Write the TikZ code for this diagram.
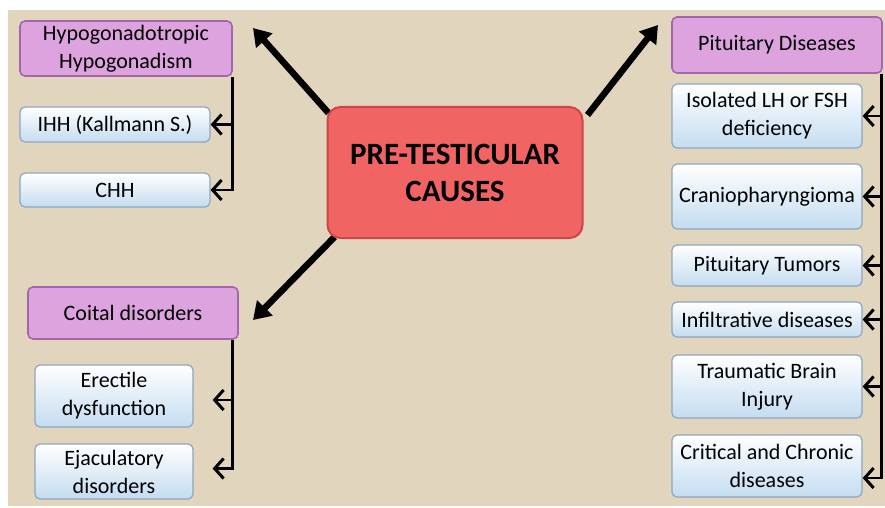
\documentclass[tikz,border=0pt]{standalone}
\usepackage{fontspec}
\setmainfont{Carlito}
\usepackage{tikz}
\usetikzlibrary{arrows.meta, positioning, calc, backgrounds}
\definecolor{beigebg}{HTML}{E1D5BE}
\definecolor{plumfill}{HTML}{DDA3DE}
\definecolor{plumline}{HTML}{A565AC}
\definecolor{skyfill}{HTML}{C4DCF0}
\definecolor{skyline}{HTML}{8EA6BE}
\definecolor{corefill}{HTML}{F06464}
\definecolor{coreline}{HTML}{CF4545}

\begin{document}
\begin{tikzpicture}[x=1pt, y=-1pt,
  font=\fontsize{22}{28}\selectfont,
  >={Straight Barb[length=9pt, width=20pt, line width=3pt]},
  headbox/.style={draw=plumline, line width=1.6pt, fill=plumfill, rounded corners=5pt,
    align=center, inner sep=0pt, text=black},
  leafbox/.style={draw=skyline, line width=1.2pt, top color=white, bottom color=skyfill,
    rounded corners=5pt, align=center, inner sep=0pt, text=black},
  corebox/.style={draw=coreline, line width=2pt, fill=corefill, rounded corners=13pt,
    align=center, inner sep=0pt, font=\fontsize{31}{37}\selectfont\bfseries},
  bigarrow/.style={line width=6.5pt, -{Triangle[length=17pt, width=21pt]}},
  linkarrow/.style={draw=black, line width=2.8pt, ->}]
\useasboundingbox (0,0) rectangle (885,508);
\begin{scope}[on background layer]
\fill[white] (0,0) rectangle (885,508);
\fill[beigebg] (8,10) rectangle (885,506);
\end{scope}

% Centre
\node[corebox, minimum width=255pt, minimum height=131pt] (ctr) at (455,172.5) {PRE-TESTICULAR\\CAUSES};

% Left, top
\node[headbox, minimum width=212pt, minimum height=55pt] (hh) at (126,48.5) {Hypogonadotropic\\Hypogonadism};
\node[leafbox, minimum width=190pt, minimum height=35pt] (ihh) at (115,124.5) {IHH (Kallmann S.)};
\node[leafbox, minimum width=190pt, minimum height=34pt] (chh) at (115,190) {CHH};
\draw[linkarrow] (hh.south east) |- (ihh.east);
\draw[linkarrow] (hh.south east) |- (chh.east);

% Left, bottom
\node[headbox, minimum width=210pt, minimum height=52pt] (coital) at (133,313) {Coital disorders};
\node[leafbox, minimum width=158pt, minimum height=62pt] (ed) at (114,396) {Erectile\\dysfunction};
\node[leafbox, minimum width=158pt, minimum height=55pt] (ejac) at (114,471.5) {Ejaculatory\\disorders};
\draw[linkarrow, shorten >=19pt] ([xshift=-6pt]coital.south east) |- ([yshift=-4pt]ed.east);
\draw[linkarrow, shorten >=19pt] ([xshift=-6pt]coital.south east) |- ([yshift=3pt]ejac.east);

% Right
\node[headbox, minimum width=210pt, minimum height=56pt] (pd) at (777,45) {Pituitary Diseases};
\node[leafbox, minimum width=190pt, minimum height=64pt] (iso) at (767,116) {Isolated LH or FSH\\deficiency};
\node[leafbox, minimum width=190pt, minimum height=65pt] (cranio) at (767,196.5) {Craniopharyngioma};
\node[leafbox, minimum width=190pt, minimum height=41pt] (ptum) at (767,265.5) {Pituitary Tumors};
\node[leafbox, minimum width=190pt, minimum height=35pt] (infil) at (767,319.5) {Infiltrative diseases};
\node[leafbox, minimum width=190pt, minimum height=63pt] (tbi) at (767,386.5) {Traumatic Brain\\Injury};
\node[leafbox, minimum width=190pt, minimum height=62pt] (crit) at (767,466) {Critical and Chronic\\diseases};
\foreach \n in {iso, cranio, ptum, infil, tbi}
  \draw[linkarrow] ([xshift=-1pt]pd.south east) |- (\n.east);
\draw[linkarrow] ([xshift=-1pt]pd.south east) |- ([yshift=-12pt]crit.east);

% Big arrows out of the centre
\coordinate (tipHH) at (253,28);
\coordinate (tipPD) at (658,25);
\coordinate (tipCD) at (253,320);
\begin{scope}[on background layer]
\draw[bigarrow] ([xshift=2pt, yshift=-7pt]ctr.north west) -- (tipHH);
\draw[bigarrow] ([xshift=4pt, yshift=-9pt]ctr.north east) -- (tipPD);
\draw[bigarrow] ([xshift=8pt, yshift=2pt]ctr.south west) -- (tipCD);
\end{scope}
\end{tikzpicture}
\end{document}
